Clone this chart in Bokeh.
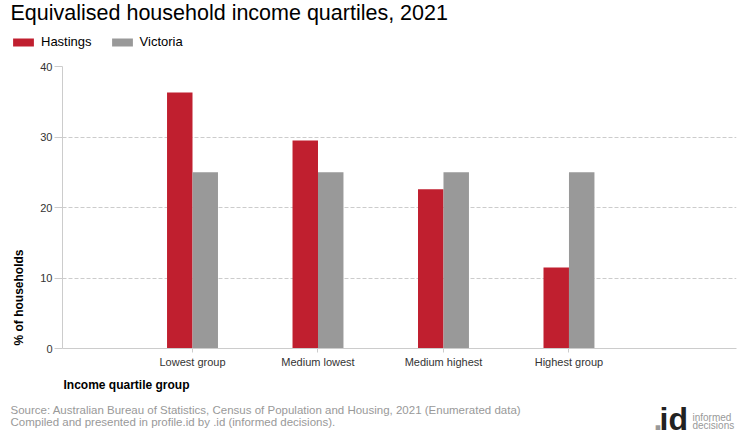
import math
from bokeh.plotting import figure
from bokeh.layouts import column, row
from bokeh.models import (ColumnDataSource, Label, Legend, LegendItem,
                          FixedTicker, Range1d)
from bokeh.transform import dodge
from bokeh.embed import file_html
from bokeh.resources import INLINE

# ---- data ----
categories = ["Lowest group", "Medium lowest", "Medium highest", "Highest group"]
hastings = [36.3, 29.5, 22.6, 11.5]
victoria = [25.0, 25.0, 25.0, 25.0]
y_ticks = [0, 10, 20, 30, 40]
series_names = ["Hastings", "Victoria"]

title_text = "Equivalised household income quartiles, 2021"
x_title = "Income quartile group"
y_title = "% of households"
source_lines = [
    "Source: Australian Bureau of Statistics, Census of Population and Housing, 2021 (Enumerated data)",
    "Compiled and presented in profile.id by .id (informed decisions).",
]

# ---- style ----
FONT = "Liberation Sans"
NARROW = "Liberation Sans Narrow, Liberation Sans"
RED = "#C01F2F"
GREY = "#999999"
TXT = "#333333"
LINE = "#cccccc"
W = 740
HEAD_H, MAIN_H, FOOT_H = 56, 316, 68
YT_W = 30


def blank(width, height, yr=(0, 1)):
    f = figure(width=width, height=height, output_backend="svg",
               toolbar_location=None, x_axis_type=None, y_axis_type=None,
               x_range=Range1d(0, 1), y_range=Range1d(*yr),
               min_border=0, min_border_left=0, min_border_right=0,
               min_border_top=0, min_border_bottom=0)
    f.outline_line_color = None
    f.background_fill_color = "white"
    return f


def lab(fig, x, y, text, size, color, bold=False, angle=0, font=FONT):
    fig.add_layout(Label(x=x, y=y, x_units="canvas", y_units="canvas",
                         text=text, text_font=font, text_font_size=size,
                         text_color=color, angle=angle, text_align="left",
                         text_baseline="middle",
                         text_font_style="bold" if bold else "normal"))


# ---- main chart ----
xs = list(range(len(categories)))
src = ColumnDataSource(dict(x=xs, cat=categories, h=hastings, v=victoria))

p = figure(width=W - YT_W, height=MAIN_H, output_backend="svg",
           toolbar_location=None,
           x_range=Range1d(-1.036, 4.335), y_range=Range1d(0, 40),
           min_border_left=32, min_border_right=4, min_border_top=10,
           min_border_bottom=24)
p.outline_line_color = None

bw = 0.203
r1 = p.vbar(x=dodge("x", -bw / 2), top="h", width=bw, source=src,
            fill_color=RED, line_color=None)
r2 = p.vbar(x=dodge("x", bw / 2), top="v", width=bw, source=src,
            fill_color=GREY, line_color=None)

p.xaxis.ticker = FixedTicker(ticks=xs)
p.xaxis.major_label_overrides = {i: c for i, c in zip(xs, categories)}
p.yaxis.ticker = FixedTicker(ticks=y_ticks)
for ax in (p.xaxis, p.yaxis):
    ax.axis_line_color = LINE
    ax.major_tick_line_color = LINE
    ax.minor_tick_line_color = None
    ax.major_tick_in = 0
    ax.major_label_text_font = FONT
    ax.major_label_text_font_size = "11px"
    ax.major_label_text_color = TXT
p.xaxis.major_tick_out = 4
p.xaxis.major_label_standoff = 3
p.yaxis.major_tick_out = 8
p.yaxis.major_label_standoff = 2

p.xgrid.grid_line_color = None
p.ygrid.grid_line_color = LINE
p.ygrid.grid_line_dash = "4 2"

# ---- header: title + legend (legend keys drawn from the same series,
#      whose bars fall outside this strip's visible range) ----
head = blank(W, HEAD_H, yr=(1000, 1001))
lab(head, 10, 12, title_text, "21.5px", "#000000")
h1 = head.vbar(x="x", top="h", width=bw, source=src,
               fill_color=RED, line_color=None)
h2 = head.vbar(x="x", top="v", width=bw, source=src,
               fill_color=GREY, line_color=None)
legend = Legend(items=[LegendItem(label=series_names[0], renderers=[h1]),
                       LegendItem(label=series_names[1], renderers=[h2])],
                location=(10, 4.5), orientation="horizontal",
                glyph_width=26, glyph_height=10, label_standoff=5, spacing=17,
                padding=0, margin=0, border_line_color=None,
                background_fill_alpha=0, label_text_font=FONT,
                label_text_font_size="13px", label_text_color="#000000",
                label_height=20)
head.add_layout(legend, "center")

# ---- y-axis title strip ----
ystrip = blank(YT_W, MAIN_H)
lab(ystrip, 18.5, 289, y_title, "12px", "#000000", bold=True,
    angle=math.pi / 2)

# ---- footer: x title, source, logo ----
foot = blank(W, FOOT_H)
lab(foot, 63, 12, x_title, "12px", "#000000", bold=True)
lab(foot, 10, 37, source_lines[0], "11.5px", GREY)
lab(foot, 10, 49, source_lines[1], "11.5px", GREY)
lab(foot, 653, 46.5, ".", "32px", "#999999", bold=True)
lab(foot, 659, 46.5, "id", "32px", "#222222", bold=True)
lab(foot, 692, 45, "informed", "10px", "#999999", font=NARROW)
lab(foot, 692, 53, "decisions", "10px", "#999999", font=NARROW)

layout = column(head, row(ystrip, p), foot)
open("out.html", "w").write(file_html(layout, INLINE))
